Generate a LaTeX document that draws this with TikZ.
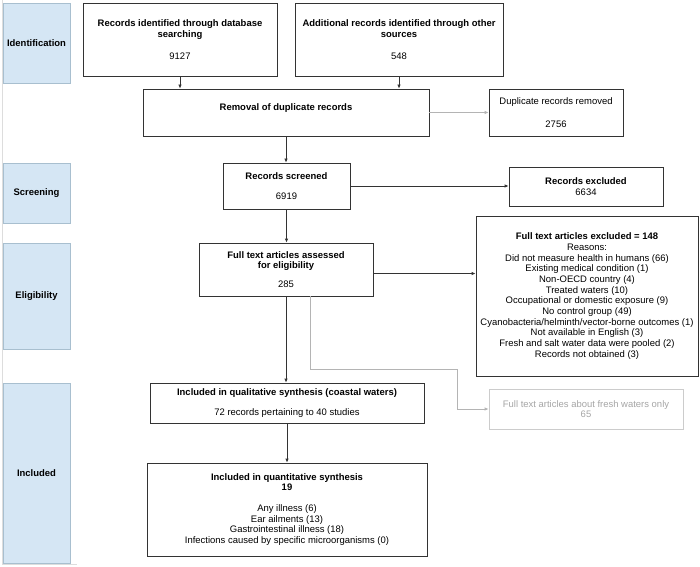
\documentclass[tikz,border=0pt]{standalone}
\usepackage{fontspec}
\setmainfont{Liberation Sans}
\usetikzlibrary{arrows.meta,calc}
\definecolor{lanefill}{HTML}{D5E6F4}
\definecolor{laneborder}{HTML}{A8BFCF}
\definecolor{boxline}{HTML}{333333}
\definecolor{lightline}{HTML}{B4B4B4}
\definecolor{fadetext}{HTML}{A6A6A6}
\definecolor{fadeline}{HTML}{CCCCCC}
\definecolor{edgeline}{HTML}{DDDDDD}
\begin{document}
\begin{tikzpicture}[x=1bp,y=-1bp,
  font=\fontsize{9.5}{10.7}\selectfont,
  lane/.style={draw=laneborder, fill=lanefill, line width=0.8bp, minimum width=67bp,
    inner sep=0pt, font=\fontsize{9.5}{10.7}\selectfont\bfseries},
  box/.style={draw=boxline, line width=0.8bp, fill=white, align=center, inner sep=0pt},
  fadebox/.style={box, draw=fadeline, text=fadetext},
  arr/.style={-{Latex[length=4bp,width=3.5bp]}, line width=0.8bp, draw=boxline},
  garr/.style={arr, draw=lightline},
]
\useasboundingbox (0,0) rectangle (700,567);
\fill[white] (0,0) rectangle (700,567);
% faint lane container edge
\draw[edgeline, line width=0.8bp] (2,0) -- (2,564) -- (77,564);

% stage lanes
\node[lane, minimum height=80bp] (ident) at (36.5,43) {Identification};
\node[lane, minimum height=60bp] (screen) at (36.5,193) {Screening};
\node[lane, minimum height=106bp] (elig) at (36.5,296) {Eligibility};
\node[lane, minimum height=180bp] (incl) at (36.5,473) {Included};

% boxes
\node[box, minimum width=194bp, minimum height=73bp] (db) at (180,39.5)
  {\textbf{Records identified through database}\\\textbf{searching}\\[11bp]9127};
\node[box, minimum width=208bp, minimum height=73bp] (add) at (399,39.5)
  {\textbf{Additional records identified through other}\\\textbf{sources}\\[11bp]548};
\node[box, minimum width=286bp, minimum height=47bp] (rem) at (286,112.5)
  {\raisebox{4bp}[\height][\depth]{\textbf{Removal of duplicate records}}};
\node[box, minimum width=134bp, minimum height=47bp] (dup) at (556,112.5)
  {Duplicate records removed\\[12bp]2756};
\node[box, minimum width=127bp, minimum height=46bp] (scr) at (286.5,186)
  {\textbf{Records screened}\\[10bp]6919};
\node[box, minimum width=154bp, minimum height=39bp] (exc) at (586,186.5)
  {\textbf{Records excluded}\\6634};
\node[box, minimum width=174bp, minimum height=53bp] (full) at (286,269.5)
  {\textbf{Full text articles assessed}\\\textbf{for eligibility}\\[8bp]285};
\node[box, minimum width=222bp, minimum height=160bp] (ftx) at (587,296)
  {\textbf{Full text articles excluded = 148}\\Reasons:\\
   Did not measure health in humans (66)\\
   Existing medical condition (1)\\
   Non-OECD country (4)\\
   Treated waters (10)\\
   Occupational or domestic exposure (9)\\
   No control group (49)\\
   Cyanobacteria/helminth/vector-borne outcomes (1)\\
   Not available in English (3)\\
   Fresh and salt water data were pooled (2)\\
   Records not obtained (3)};
\node[box, minimum width=274bp, minimum height=40bp] (qual) at (287,403)
  {\textbf{Included in qualitative synthesis (coastal waters)}\\[9bp]72 records pertaining to 40 studies};
\node[fadebox, minimum width=194bp, minimum height=40bp] (fresh) at (586,409)
  {Full text articles about fresh waters only\\65};
\node[box, minimum width=280bp, minimum height=93bp] (quan) at (287,509.5)
  {\textbf{Included in quantitative synthesis}\\\textbf{19}\\[10bp]
   Any illness (6)\\
   Ear ailments (13)\\
   Gastrointestinal illness (18)\\
   Infections caused by specific microorganisms (0)};

% connectors
\draw[arr] (db.south) -- (db.south |- rem.north);
\draw[arr] (add.south) -- (add.south |- rem.north);
\draw[garr] (rem.east) -- (dup.west);
\draw[arr] (rem.south) -- (rem.south |- scr.north);
\draw[arr] (scr.east) -- (scr.east -| exc.west);
\draw[arr] (scr.south) -- (scr.south |- full.north);
\coordinate (g1) at (310,369);
\coordinate (g2) at (457,369);
\draw[garr] (full.south -| g1) -- (g1) -- (g2) |- (fresh.west);
\draw[arr] ($(full.east)+(0,4)$) -- ($(full.east -| ftx.west)+(0,4)$);
\draw[arr] (full.south) -- (full.south |- qual.north);
\draw[arr] (qual.south) -- (qual.south |- quan.north);
\end{tikzpicture}
\end{document}
